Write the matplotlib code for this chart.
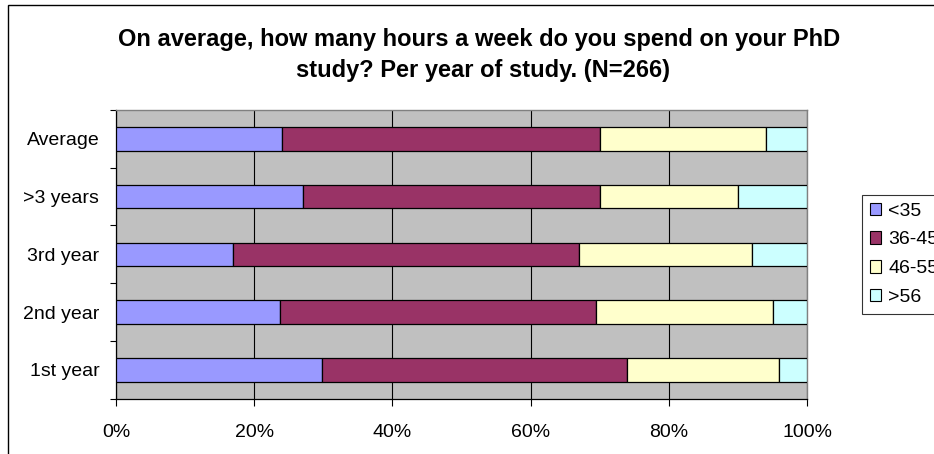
import matplotlib
matplotlib.use("Agg")
import matplotlib.pyplot as plt
from matplotlib.patches import Rectangle, Patch
import numpy as np

plt.rcParams['font.family'] = ['Liberation Sans', 'DejaVu Sans']

categories = ["1st year", "2nd year", "3rd year", ">3 years", "Average"]
series_names = ["<35", "36-45", "46-55", ">56"]
lt35 = [29.8, 23.8, 17.0, 27.0, 24.0]
s36_45 = [44.2, 45.6, 50.0, 43.0, 46.0]
s46_55 = [22.0, 25.7, 25.1, 20.0, 24.0]
gt56 = [4.0, 4.9, 7.9, 10.0, 6.0]
colors = ["#9999FF", "#993366", "#FFFFCC", "#CCFFFF"]
xtick_vals = [0, 20, 40, 60, 80, 100]
xtick_labels = ["0%", "20%", "40%", "60%", "80%", "100%"]
title_lines = ["On average, how many hours a week do you spend on your PhD",
               "study? Per year of study. (N=266)"]

W, H = 934, 454
fig = plt.figure(figsize=(W / 100, H / 100), dpi=100)
fig.patch.set_facecolor("white")

ax = fig.add_axes([116 / W, 1 - 398.7 / H, (807 - 116) / W, (398.7 - 110) / H])
ax.set_facecolor("#C0C0C0")

y = np.arange(len(categories))
left = np.zeros(len(categories))
for name, vals, c in zip(series_names, [lt35, s36_45, s46_55, gt56], colors):
    ax.barh(y, vals, left=left, height=0.41, color=c, edgecolor="black",
            linewidth=0.9, zorder=3, label=name)
    left = left + np.array(vals)

ax.set_xlim(0, 100)
ax.set_ylim(-0.5, len(categories) - 0.5)

ax.set_xticks(xtick_vals)
ax.set_xticklabels(xtick_labels, fontsize=14)
ax.set_yticks(y)
ax.set_yticklabels(categories, fontsize=14)
ax.tick_params(axis="y", which="major", length=0, pad=12)
ax.set_yticks(np.arange(-0.5, len(categories)), minor=True)
ax.tick_params(axis="y", which="minor", length=4.5, width=0.8, direction="out")
ax.tick_params(axis="x", which="major", length=5, width=0.8, direction="out", pad=13)

ax.grid(axis="x", color="black", linewidth=0.8, zorder=1)
ax.set_axisbelow(True)

for s in ["top", "right"]:
    ax.spines[s].set_color("#808080")
    ax.spines[s].set_linewidth(1.0)
for s in ["left", "bottom"]:
    ax.spines[s].set_color("black")
    ax.spines[s].set_linewidth(0.9)

# title
fig.text(479 / W, 1 - 46 / H, title_lines[0], ha="center", va="baseline",
         fontsize=17, fontweight="bold")
fig.text(483 / W, 1 - 77 / H, title_lines[1], ha="center", va="baseline",
         fontsize=17, fontweight="bold")

# legend
handles = [Patch(facecolor=c, edgecolor="black", linewidth=0.8, label=n)
           for n, c in zip(series_names, colors)]
leg = fig.legend(handles=handles, loc="upper left",
                 bbox_to_anchor=(862 / W, 1 - 195 / H), fontsize=14,
                 frameon=True, fancybox=False, edgecolor="black",
                 handlelength=0.6, handleheight=0.6, handletextpad=0.35,
                 labelspacing=0.6, borderpad=0.4, borderaxespad=0)
leg.get_frame().set_linewidth(0.8)

# outer chart border
fig.add_artist(Rectangle((7.5 / W, -0.2), 1.5, 1.2 - 5.5 / H,
                         transform=fig.transFigure, fill=False,
                         edgecolor="black", linewidth=1.0, clip_on=False))

fig.savefig("out.png", dpi=100)
